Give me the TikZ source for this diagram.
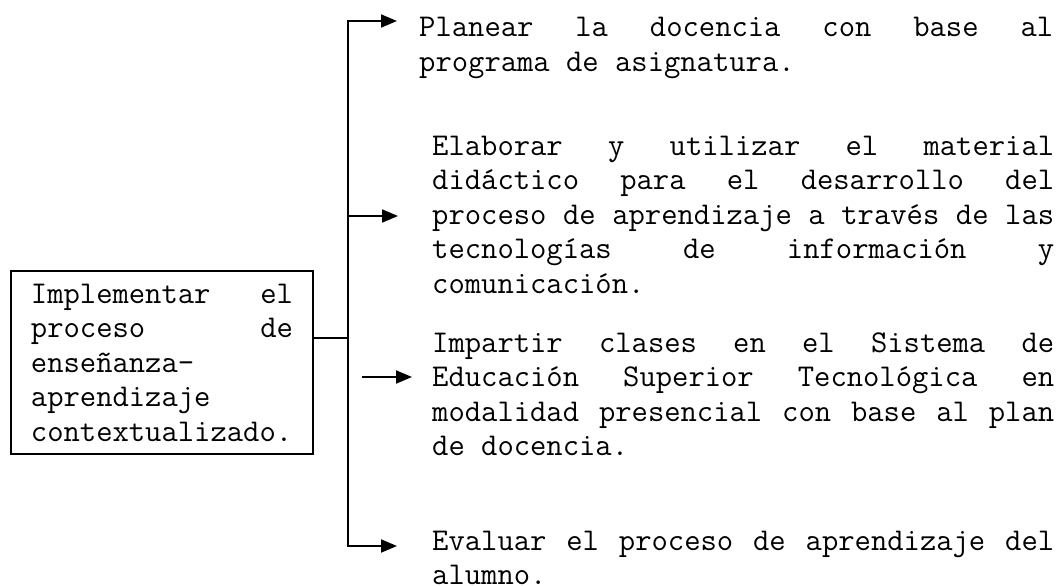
\documentclass[tikz,border=0pt]{standalone}
\usetikzlibrary{calc}
\usetikzlibrary{arrows.meta}
\hyphenpenalty=10000
\tolerance=10000

\tikzset{
  txt/.style={anchor=base west, inner sep=0pt, align=justify,
    font={\ttfamily\fontsize{31.7}{34.5}\selectfont\fontdimen3\font=1em\relax}},
  linea/.style={line width=1.9pt},
  flecha/.style={linea, -{Triangle[length=16pt,width=13pt]}},
}

\begin{document}
\begin{tikzpicture}[x=1pt,y=-1pt]
\useasboundingbox (0,0) rectangle (1060,586);
\node (meta) at (10,270) [txt, draw, linea, anchor=north west, text width=262pt, inner xsep=20pt, inner ysep=0pt, minimum height=183pt] {Implementar el\linebreak proceso de\linebreak enseñanza-\linebreak aprendizaje\linebreak contextualizado.};
\node (plan) at (419,37) [txt, text width=634pt] {Planear la docencia con base al\linebreak programa de asignatura.};
\node (material) at (432,155) [txt, text width=622pt] {Elaborar y utilizar el material\linebreak didáctico para el desarrollo del\linebreak proceso de aprendizaje a través de las\linebreak tecnologías de información y\linebreak comunicación.};
\node (clases) at (432,352) [txt, text width=622pt] {Impartir clases en el Sistema de\linebreak Educación Superior Tecnológica en\linebreak modalidad presencial con base al plan\linebreak de docencia.};
\node (evaluar) at (432,550) [txt, text width=622pt] {Evaluar el proceso de aprendizaje del\linebreak alumno.};
\coordinate (hub) at (348,338);
\coordinate (f1) at (397,21);
\coordinate (f2) at (398,216);
\coordinate (c3) at (362,377);
\coordinate (f3) at (412,377);
\coordinate (f4) at (397,546);
\draw [linea] (meta.east |- hub) -- (hub);
\draw [flecha] (hub) |- (f1);
\draw [flecha] (hub) |- (f4);
\draw [flecha] (hub |- f2) -- (f2);
\draw [flecha] (c3) -- (f3);
\end{tikzpicture}
\end{document}
